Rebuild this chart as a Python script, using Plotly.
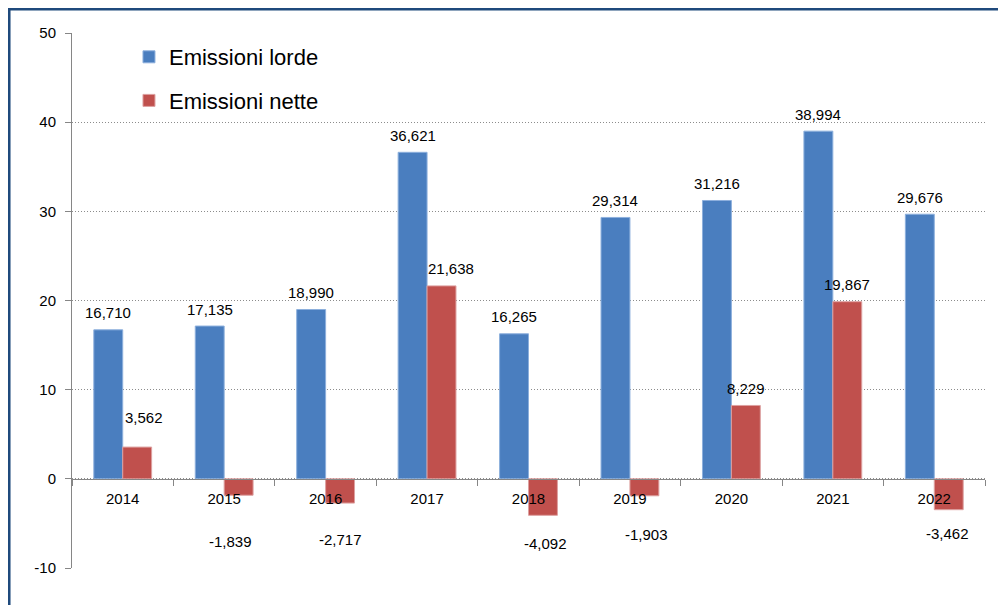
import plotly.graph_objects as go

# ---- data ----
years = ["2014", "2015", "2016", "2017", "2018", "2019", "2020", "2021", "2022"]
lorde = [16.710, 17.135, 18.990, 36.621, 16.265, 29.314, 31.216, 38.994, 29.676]
nette = [3.562, -1.839, -2.717, 21.638, -4.092, -1.903, 8.229, 19.867, -3.462]
y_ticks = [-10, 0, 10, 20, 30, 40, 50]
y_tick_text = ["-10", "0", "10", "20", "30", "40", "50"]

# ---- style ----
BLUE = "#4A7EBF"
RED = "#C0504D"
GRID = "#8C8C8C"
AXIS = "#868686"
FONT = "Liberation Sans"
LBL_SIZE = 15
BAR_HALF = 0.1429          # half bar width in category units (bargap 0.43)
# manual label nudges for the net series (pixels: dx, extra distance from bar end)
net_nudge = [(7, 13), (-8, 26), (0, 16), (9, 0), (2, 8), (2, 19), (0, 0), (0, 0), (-1, 4)]

def fmt(v):
    return f"{v:.3f}".replace(".", ",")

fig = go.Figure()
fig.add_trace(go.Bar(
    x=years, y=lorde, name="Emissioni lorde",
    marker=dict(color=BLUE, line=dict(color="#8DB0DD", width=1)),
    legendgroup="a",
))
fig.add_trace(go.Bar(
    x=years, y=nette, name="Emissioni nette",
    marker=dict(color=RED, line=dict(color="#DDA0A0", width=1)),
    legendgroup="b",
))

annotations = []
for i, v in enumerate(lorde):
    annotations.append(dict(
        x=i - BAR_HALF, y=v, xref="x", yref="y", text=fmt(v), showarrow=False,
        yanchor="middle", yshift=17, font=dict(family=FONT, size=LBL_SIZE, color="#000"),
    ))
for i, v in enumerate(nette):
    dx, extra = net_nudge[i]
    shift = (17 + extra) if v >= 0 else -(20 + extra)
    annotations.append(dict(
        x=i + BAR_HALF, y=v, xref="x", yref="y", text=fmt(v), showarrow=False,
        yanchor="middle", yshift=shift, xshift=dx,
        font=dict(family=FONT, size=LBL_SIZE, color="#000"),
    ))

# the page body has an 8px margin, so the figure is 998x597 placed at (8, 8)
W, H = 998, 597
L, R, T, B = 64, 20.5, 25, 37.3
pw, ph = W - L - R, H - T - B
zero_pos = (0 - (-10)) / 60.0

fig.update_layout(
    width=W, height=H,
    margin=dict(l=L, r=R, t=T, b=B, pad=0),
    paper_bgcolor="white", plot_bgcolor="white",
    barmode="group", bargap=0.43, bargroupgap=0,
    font=dict(family=FONT, size=LBL_SIZE, color="#000"),
    showlegend=True,
    legend=dict(
        x=(121 - L) / pw, y=1 - (28 - T) / ph, xanchor="left", yanchor="top",
        font=dict(family=FONT, size=22, color="#000"),
        bgcolor="rgba(0,0,0,0)", tracegroupgap=12, traceorder="grouped",
    ),
    xaxis=dict(
        type="category", anchor="free", position=zero_pos,
        showline=True, linecolor=AXIS, linewidth=1,
        ticks="outside", ticklen=6, tickcolor=AXIS, tickson="boundaries",
        showgrid=False, ticklabelstandoff=6,
        tickfont=dict(family=FONT, size=LBL_SIZE, color="#000"),
    ),
    yaxis=dict(
        range=[-10, 50], tickvals=y_ticks, ticktext=y_tick_text,
        showline=True, linecolor=AXIS, linewidth=1,
        ticks="outside", ticklen=6, tickcolor=AXIS,
        showgrid=True, gridcolor=GRID, griddash="1px,2px", gridwidth=1,
        zeroline=False, ticklabelstandoff=6,
        tickfont=dict(family=FONT, size=LBL_SIZE, color="#000"),
    ),
    annotations=annotations,
    shapes=[dict(
        type="rect", xref="paper", yref="paper",
        x0=(1 - L) / pw, x1=(1030 - L) / pw,
        y0=-(640 - (H - B)) / ph, y1=1 + (T - 1) / ph,
        line=dict(color="#1F4A7C", width=3), layer="above",
    )],
)

fig.write_html("out.html")
